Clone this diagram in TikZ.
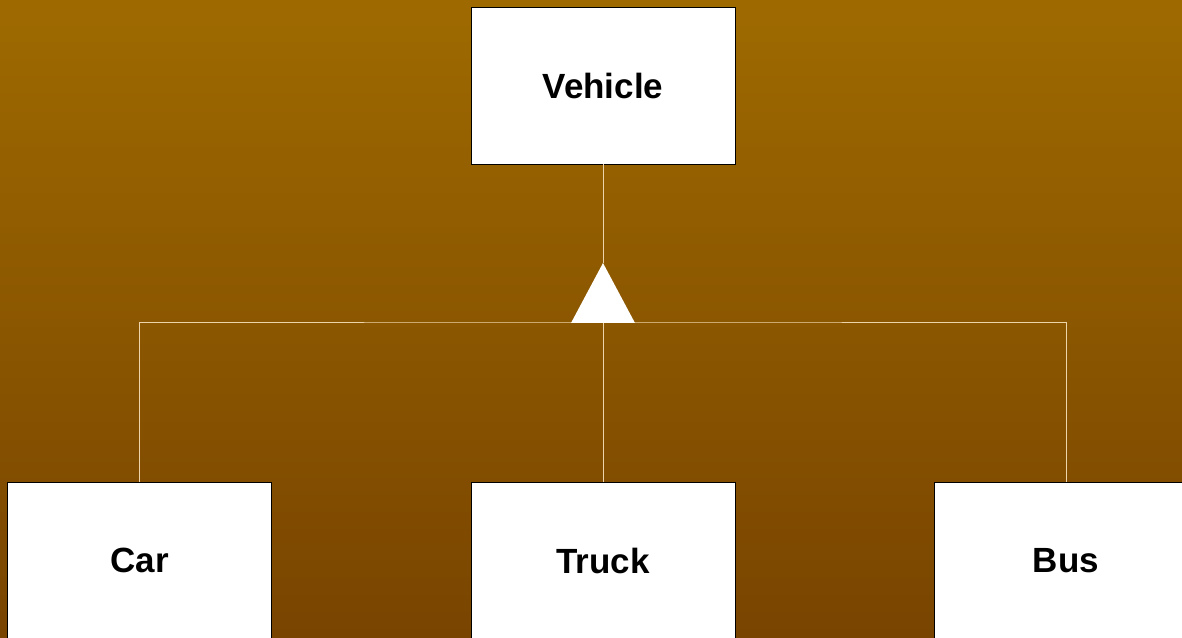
\documentclass[tikz,border=0pt]{standalone}
\usepackage{fontspec}
\setmainfont{Liberation Sans}
\definecolor{bgtop}{RGB}{158,106,0}
\definecolor{bgbottom}{RGB}{121,68,0}
\definecolor{wire}{RGB}{238,212,170}
\begin{document}
\begin{tikzpicture}[x=1pt, y=1pt]
		\tikzset{cls/.style={rectangle, draw=black, fill=white, line width=0.8pt, inner sep=0pt, minimum width=264pt, minimum height=157pt, font=\fontsize{35}{38}\selectfont\bfseries}};
		\tikzset{link/.style={draw=wire, line width=1pt}};

		\clip (0, 0) rectangle (1182, 637);
		\shade[top color=bgtop, bottom color=bgbottom] (0, 0) rectangle (1182, 637);

		\node[cls] (vehicle) at (603, 551.5) {Vehicle};
		\node[cls] (car) at (139.5, 76.5) {Car};
		\node[cls] (truck) at (603, 76.5) {Truck};
		\node[cls] (bus) at (1066, 76.5) {Bus};

		\coordinate (apex) at (603, 374);
		\coordinate (join) at (603, 314);

		\draw[link] (vehicle) to (apex);
		\draw[link] (car.north) |- (join) -| (bus.north);
		\draw[link] (join) to (truck.north);

		\fill[white] (apex) -- ([xshift=-32pt]join) -- ([xshift=32pt]join) -- cycle;

	\end{tikzpicture}
\end{document}
